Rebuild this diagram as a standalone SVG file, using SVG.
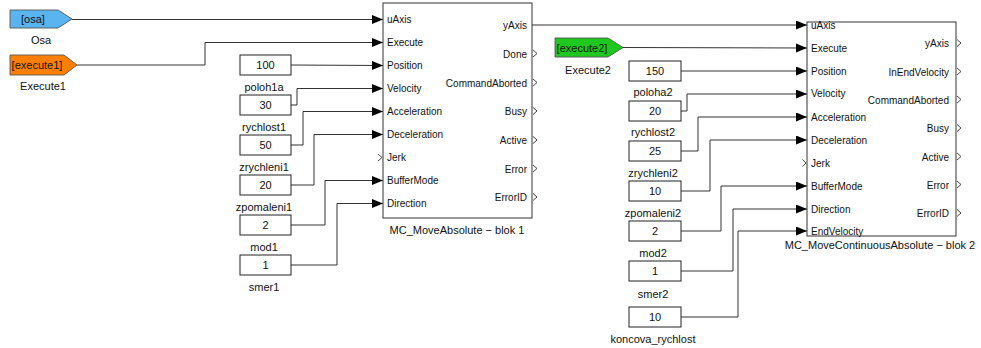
<svg xmlns="http://www.w3.org/2000/svg" width="981" height="348" viewBox="0 0 981 348">
<defs>
<marker id="arr" markerUnits="userSpaceOnUse" markerWidth="12" markerHeight="10" refX="11" refY="4.5" orient="auto">
<path d="M0,0 L11,4.5 L0,9 z" fill="#000"/>
</marker>
<style>
text{font-family:"Liberation Sans",Arial,sans-serif;fill:#111}
.blk{fill:#fff;stroke:#333;stroke-width:1}
.cst{fill:#fff;stroke:#222;stroke-width:1}
.w{fill:none;stroke:#333;stroke-width:1;marker-end:url(#arr)}
.ch{fill:none;stroke:#333;stroke-width:0.9}
.tag{stroke:#555;stroke-width:0.9}
.pin{font-size:10px}
.pout{font-size:10px;text-anchor:end}
.v{font-size:11px;text-anchor:middle}
.lb{font-size:11px;text-anchor:middle}
.tt{font-size:11px;text-anchor:middle}
</style>
</defs>
<rect width="981" height="348" fill="#fff"/>

<g id="connectors">
<polyline class="w" points="72,19.5 383,19.5"/>
<polyline class="w" points="77,65 205,65 205,42.5 383,42.5"/>
<polyline class="w" points="291,65 383,65.5"/>
<polyline class="w" points="291,105 297,105 297,88.5 383,88.5"/>
<polyline class="w" points="291,145 303,145 303,111.5 383,111.5"/>
<polyline class="w" points="291,185 314,185 314,134.5 383,134.5"/>
<polyline class="w" points="291,225 325,225 325,180.5 383,180.5"/>
<polyline class="w" points="291,265 337,265 337,203.5 383,203.5"/>
<polyline class="w" points="532,25 807,25"/>
<polyline class="w" points="623,47.5 807,48"/>
<polyline class="w" points="681,71 807,71"/>
<polyline class="w" points="681,111 687,111 687,94 807,94"/>
<polyline class="w" points="681,151 698,151 698,117 807,117"/>
<polyline class="w" points="681,191 710,191 710,140 807,140"/>
<polyline class="w" points="681,231 721,231 721,186 807,186"/>
<polyline class="w" points="681,271 733,271 733,209 807,209"/>
<polyline class="w" points="681,317 738,317 738,231 807,231"/>
</g>

<g id="tag-osa">
<polygon class="tag" points="10,10 58,10 72,19 58,28 10,28" fill="#5ab4f0"/>
<text class="tt" x="33" y="23">[osa]</text>
<text class="lb" x="41" y="44">Osa</text>
</g>
<g id="tag-execute1">
<polygon class="tag" points="10,55 64,55 77,65 64,75 10,75" fill="#ff8000"/>
<text class="tt" x="37" y="69">[execute1]</text>
<text class="lb" x="43" y="90">Execute1</text>
</g>
<g id="tag-execute2">
<polygon class="tag" points="555,38 608,38 623,47.5 608,57 555,57" fill="#1ec81e"/>
<text class="tt" x="582" y="51.5">[execute2]</text>
<text class="lb" x="588" y="74">Execute2</text>
</g>

<g id="c-poloh1a"><rect class="cst" x="240" y="55" width="51" height="20"/><text class="v" x="265.5" y="69">100</text><text class="lb" x="264" y="91">poloh1a</text></g>
<g id="c-rychlost1"><rect class="cst" x="240" y="95" width="51" height="20"/><text class="v" x="265.5" y="109">30</text><text class="lb" x="264" y="131">rychlost1</text></g>
<g id="c-zrychleni1"><rect class="cst" x="240" y="135" width="51" height="20"/><text class="v" x="265.5" y="149">50</text><text class="lb" x="264" y="171">zrychleni1</text></g>
<g id="c-zpomaleni1"><rect class="cst" x="240" y="175" width="51" height="20"/><text class="v" x="265.5" y="189">20</text><text class="lb" x="264" y="211">zpomaleni1</text></g>
<g id="c-mod1"><rect class="cst" x="240" y="215" width="51" height="20"/><text class="v" x="265.5" y="229">2</text><text class="lb" x="264" y="251">mod1</text></g>
<g id="c-smer1"><rect class="cst" x="240" y="255" width="51" height="20"/><text class="v" x="265.5" y="269">1</text><text class="lb" x="264" y="291">smer1</text></g>

<g id="c-poloha2"><rect class="cst" x="629" y="61" width="52" height="20"/><text class="v" x="655" y="75">150</text><text class="lb" x="653" y="96">poloha2</text></g>
<g id="c-rychlost2"><rect class="cst" x="629" y="101" width="52" height="20"/><text class="v" x="655" y="115">20</text><text class="lb" x="653" y="136">rychlost2</text></g>
<g id="c-zrychleni2"><rect class="cst" x="629" y="141" width="52" height="20"/><text class="v" x="655" y="155">25</text><text class="lb" x="653" y="177">zrychleni2</text></g>
<g id="c-zpomaleni2"><rect class="cst" x="629" y="181" width="52" height="20"/><text class="v" x="655" y="195">10</text><text class="lb" x="653" y="217">zpomaleni2</text></g>
<g id="c-mod2"><rect class="cst" x="629" y="221" width="52" height="20"/><text class="v" x="655" y="235">2</text><text class="lb" x="653" y="257">mod2</text></g>
<g id="c-smer2"><rect class="cst" x="629" y="261" width="52" height="20"/><text class="v" x="655" y="275">1</text><text class="lb" x="653" y="298">smer2</text></g>
<g id="c-koncova_rychlost"><rect class="cst" x="629" y="307" width="52" height="20"/><text class="v" x="655" y="321">10</text><text class="lb" x="653" y="343">koncova_rychlost</text></g>

<g id="blok1">
<rect class="blk" x="383" y="3" width="149" height="215"/>
<text class="pin" x="387" y="23">uAxis</text>
<text class="pin" x="387" y="46">Execute</text>
<text class="pin" x="387" y="69">Position</text>
<text class="pin" x="387" y="92">Velocity</text>
<text class="pin" x="387" y="115">Acceleration</text>
<text class="pin" x="387" y="138">Deceleration</text>
<text class="pin" x="387" y="161">Jerk</text>
<text class="pin" x="387" y="184">BufferMode</text>
<text class="pin" x="387" y="207">Direction</text>
<polyline class="ch" points="378,154 382,157.5 378,161"/>
<text class="pout" x="527" y="29">yAxis</text>
<text class="pout" x="527" y="58">Done</text>
<text class="pout" x="527" y="87">CommandAborted</text>
<text class="pout" x="527" y="115">Busy</text>
<text class="pout" x="527" y="144">Active</text>
<text class="pout" x="527" y="173">Error</text>
<text class="pout" x="527" y="201">ErrorID</text>
<polyline class="ch" points="533,50 537,53.5 533,57"/>
<polyline class="ch" points="533,79 537,82.5 533,86"/>
<polyline class="ch" points="533,107.5 537,111 533,114.5"/>
<polyline class="ch" points="533,136.5 537,140 533,143.5"/>
<polyline class="ch" points="533,165 537,168.5 533,172"/>
<polyline class="ch" points="533,193.5 537,197 533,200.5"/>
<text class="tt" x="457" y="234">MC_MoveAbsolute − blok 1</text>
</g>

<g id="blok2">
<rect class="blk" x="807" y="22" width="149" height="214"/>
<text class="pin" x="811" y="29">uAxis</text>
<text class="pin" x="811" y="52">Execute</text>
<text class="pin" x="811" y="75">Position</text>
<text class="pin" x="811" y="97">Velocity</text>
<text class="pin" x="811" y="121">Acceleration</text>
<text class="pin" x="811" y="144">Deceleration</text>
<text class="pin" x="811" y="167">Jerk</text>
<text class="pin" x="811" y="190">BufferMode</text>
<text class="pin" x="811" y="213">Direction</text>
<text class="pin" x="811" y="235">EndVelocity</text>
<polyline class="ch" points="802.5,159.5 806,163 802.5,166.5"/>
<text class="pout" x="949" y="47">yAxis</text>
<text class="pout" x="949" y="76">InEndVelocity</text>
<text class="pout" x="949" y="104">CommandAborted</text>
<text class="pout" x="949" y="132">Busy</text>
<text class="pout" x="949" y="161">Active</text>
<text class="pout" x="949" y="189">Error</text>
<text class="pout" x="949" y="217">ErrorID</text>
<polyline class="ch" points="957,39.5 961,43 957,46.5"/>
<polyline class="ch" points="957,68 961,71.5 957,75"/>
<polyline class="ch" points="957,96 961,99.5 957,103"/>
<polyline class="ch" points="957,124.5 961,128 957,131.5"/>
<polyline class="ch" points="957,153 961,156.5 957,160"/>
<polyline class="ch" points="957,181 961,184.5 957,188"/>
<polyline class="ch" points="957,209.5 961,213 957,216.5"/>
<text class="tt" x="880" y="249">MC_MoveContinuousAbsolute − blok 2</text>
</g>
</svg>
